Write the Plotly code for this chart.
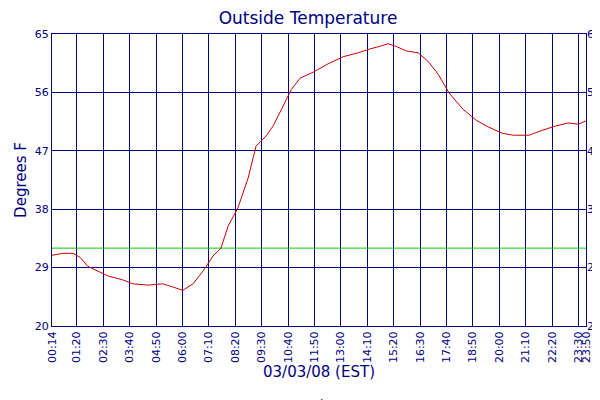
import plotly.graph_objects as go

times = ["00:14","00:43","01:10","01:28","01:49","02:16","02:43","03:22","03:49","04:29","05:08","05:35","06:01","06:28","06:55","07:21","07:42","08:01","08:27","08:54","09:15","09:42","10:00","10:27","10:48","11:12","11:46","12:26","13:06","13:46","14:17","14:44","15:05","15:26","15:53","16:25","16:51","17:18","17:47","18:24","18:59","19:30","20:08","20:37","21:19","21:56","22:28","23:03","23:29","23:50"]
temps = [30.9,31.2,31.2,30.6,29.2,28.5,27.7,27.1,26.5,26.3,26.5,26.0,25.5,26.5,28.5,30.8,32.0,35.4,38.2,42.8,47.7,49.3,50.8,53.9,56.4,58.2,59.1,60.4,61.5,62.1,62.7,63.1,63.5,63.1,62.4,62.1,60.8,58.8,55.9,53.4,51.7,50.7,49.7,49.4,49.4,50.2,50.8,51.3,51.1,51.6]
tick_labels = ["00:14","01:20","02:30","03:40","04:50","06:00","07:10","08:20","09:30","10:40","11:50","13:00","14:10","15:20","16:30","17:40","18:50","20:00","21:10","22:20","23:30","23:50"]
y_ticks = [20, 29, 38, 47, 56, 65]
freeze = 32

def mins(t):
    h, m = t.split(":")
    return int(h) * 60 + int(m)

xs = [mins(t) for t in times]
tv = [mins(t) for t in tick_labels]
navy = "#000080"

fig = go.Figure()
fig.add_trace(go.Scatter(x=[xs[0], xs[-1]], y=[freeze, freeze], mode="lines",
                         line=dict(color="#00cc00", width=1), showlegend=False, hoverinfo="skip"))
fig.add_trace(go.Scatter(x=xs, y=temps, mode="lines", name="Outdoor Temp",
                         line=dict(color="#cc0000", width=1)))
fig.add_trace(go.Scatter(x=[xs[0]], y=[20], yaxis="y2", mode="markers", marker=dict(opacity=0),
                         showlegend=False, hoverinfo="skip"))
fig.update_layout(
    width=600, height=400, plot_bgcolor="white", paper_bgcolor="white",
    margin=dict(l=44, r=22, t=26, b=82, autoexpand=False),
    font=dict(family="DejaVu Sans", color=navy, size=11),
    title=dict(text="Outside Temperature", x=0.5, xanchor="center", y=0.99, yanchor="top",
               font=dict(size=17, color=navy)),
    legend=dict(orientation="h", x=0.5, xanchor="center", y=-0.22, yanchor="top", font=dict(size=12)),
    xaxis=dict(range=[xs[0], xs[-1]], tickvals=tv, ticktext=tick_labels, tickangle=-90, automargin=False,
               showgrid=True, gridcolor=navy, gridwidth=1, showline=True, linecolor=navy, mirror=True,
               zeroline=False, title=dict(text="03/03/08 (EST)", font=dict(size=15, color=navy), standoff=4),
               tickfont=dict(size=11)),
    yaxis=dict(range=[20, 65], tickvals=y_ticks, showgrid=True, gridcolor=navy, showline=True,
               linecolor=navy, mirror=True, zeroline=False, ticks="", automargin=False,
               title=dict(text="Degrees F", font=dict(size=15, color=navy), standoff=4)),
    yaxis2=dict(range=[20, 65], tickvals=y_ticks, overlaying="y", side="right", showgrid=False,
                tickfont=dict(size=11, color=navy), zeroline=False, automargin=False),
)
fig.write_html("out.html")
